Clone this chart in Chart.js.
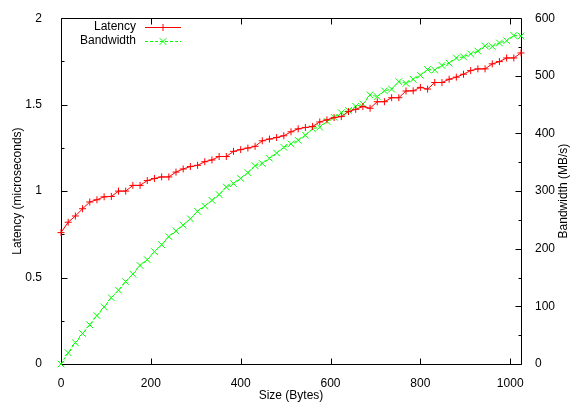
<!DOCTYPE html>
<html><head><meta charset="utf-8">
<script src="https://cdn.jsdelivr.net/npm/chart.js@4/dist/chart.umd.min.js"></script>
<style>html,body{margin:0;padding:0;background:#fff}#wrap{width:570px;height:405px;position:relative}</style>
</head><body><div id="wrap"><canvas id="c" width="570" height="405"></canvas></div>
<script>
const sizes = [0,16,32,48,64,80,96,112,128,144,160,176,192,208,224,240,256,272,288,304,320,336,352,368,384,400,416,432,448,464,480,496,512,528,544,560,576,592,608,624,640,656,672,688,704,720,736,752,768,784,800,816,832,848,864,880,896,912,928,944,960,976,992,1008,1024];
const latency = [0.76,0.82,0.856,0.898,0.937,0.95,0.967,0.969,1.0,1.0,1.033,1.033,1.061,1.073,1.082,1.082,1.11,1.128,1.142,1.149,1.17,1.18,1.2,1.2,1.23,1.24,1.249,1.259,1.291,1.301,1.31,1.32,1.343,1.36,1.368,1.374,1.4,1.412,1.425,1.431,1.46,1.473,1.489,1.479,1.517,1.517,1.54,1.54,1.579,1.58,1.6,1.59,1.628,1.628,1.647,1.659,1.676,1.697,1.707,1.707,1.736,1.749,1.77,1.77,1.799];
const bandwidth = [0,19.5,37,53,68,84,99,115,128,143,156,171,181,195,207,221,231,241,252,265,274,284,294,307,313,322,332,344,348,357,366,376,382,388,397,408,411,421,428,436,440,447,451,467,464,474,477,490,487,494,501,511,510,518,522,531,533,538,543,552,551,557,561,570,569];
const xTickValues = [0,200,400,600,800,1000];
const latencyTickValues = [0,0.5,1,1.5,2];
const latencyMinorTicks = [0.25,0.75,1.25,1.75];
const bandwidthTickValues = [0,100,200,300,400,500,600];
const bandwidthMinorTicks = [50,150,250,350,450,550];
const seriesNames = ['Latency','Bandwidth'];
const axisTitles = {x:'Size (Bytes)', y:'Latency (microseconds)', y2:'Bandwidth (MB/s)'};

const FONT = {family:'"Liberation Sans", Arial, sans-serif', size:12};
const FONTSTR = '12px "Liberation Sans", Arial, sans-serif';
const RED = '#ff0000', GREEN = '#00ff00';

const frame = {
  id:'frame',
  beforeDatasetsDraw(chart){
    const {ctx, chartArea:a, scales} = chart;
    ctx.save();
    ctx.strokeStyle = '#000'; ctx.lineWidth = 1;
    ctx.beginPath();
    const L=Math.round(a.left)+0.5, R=Math.round(a.right)+0.5, T=Math.round(a.top)+0.5, B=Math.round(a.bottom)+0.5;
    ctx.rect(L,T,R-L,B-T);
    xTickValues.forEach(v=>{const x=Math.round(scales.x.getPixelForValue(v))+0.5; ctx.moveTo(x,B); ctx.lineTo(x,B-6); ctx.moveTo(x,T); ctx.lineTo(x,T+6);});
    latencyTickValues.forEach(v=>{const y=Math.round(scales.y.getPixelForValue(v))+0.5; ctx.moveTo(L,y); ctx.lineTo(L+6,y);});
    latencyMinorTicks.forEach(v=>{const y=Math.round(scales.y.getPixelForValue(v))+0.5; ctx.moveTo(L,y); ctx.lineTo(L+3,y);});
    bandwidthTickValues.forEach(v=>{const y=Math.round(scales.y2.getPixelForValue(v))+0.5; ctx.moveTo(R,y); ctx.lineTo(R-6,y);});
    bandwidthMinorTicks.forEach(v=>{const y=Math.round(scales.y2.getPixelForValue(v))+0.5; ctx.moveTo(R,y); ctx.lineTo(R-3,y);});
    ctx.stroke();
    // right axis title, reading bottom to top
    ctx.fillStyle = '#000'; ctx.font = FONTSTR; ctx.textAlign='center'; ctx.textBaseline='middle';
    ctx.translate(564,(a.top+a.bottom)/2); ctx.rotate(-Math.PI/2);
    ctx.fillText(axisTitles.y2,0,0);
    ctx.restore();
  },
  afterDatasetsDraw(chart){
    const {ctx} = chart;
    ctx.save();
    ctx.font = FONTSTR; ctx.textAlign='right'; ctx.textBaseline='middle'; ctx.fillStyle='#000';
    chart.data.datasets.forEach((ds,i)=>{
      const y = 27 + i*13.7;
      ctx.fillText(ds.label,136,y);
      const yy = Math.round(y)+0.5;
      ctx.strokeStyle = ds.borderColor; ctx.lineWidth=1;
      ctx.setLineDash(ds.borderDash||[]);
      ctx.beginPath(); ctx.moveTo(145,yy); ctx.lineTo(181,yy); ctx.stroke();
      ctx.setLineDash([]);
      ctx.beginPath();
      if (ds.pointStyle==='cross'){ ctx.moveTo(163-3.5,yy); ctx.lineTo(163+3.5,yy); ctx.moveTo(163,yy-3.5); ctx.lineTo(163,yy+3.5); }
      else { const d=3.3; ctx.moveTo(163-d,yy-d); ctx.lineTo(163+d,yy+d); ctx.moveTo(163-d,yy+d); ctx.lineTo(163+d,yy-d); }
      ctx.stroke();
    });
    ctx.restore();
  }
};

new Chart(document.getElementById('c'), {
  type:'line',
  data:{
    datasets:[
      {label:seriesNames[0], data:sizes.map((s,i)=>({x:s,y:latency[i]})), yAxisID:'y',
       borderColor:RED, backgroundColor:RED, borderWidth:1, pointStyle:'cross', pointRadius:3.5,
       pointBorderWidth:1, pointBorderColor:RED, tension:0, clip:false},
      {label:seriesNames[1], data:sizes.map((s,i)=>({x:s,y:bandwidth[i]})), yAxisID:'y2',
       borderColor:GREEN, backgroundColor:GREEN, borderWidth:1, borderDash:[3,2], pointStyle:'crossRot', pointRadius:4.7,
       pointBorderWidth:1, pointBorderColor:GREEN, tension:0, clip:false}
    ]
  },
  options:{
    responsive:false, animation:false, devicePixelRatio:1,
    layout:{padding:{top:16,left:0,right:0,bottom:0}},
    plugins:{legend:{display:false}, tooltip:{enabled:false}},
    scales:{
      x:{type:'linear', min:0, max:1024, grid:{display:false}, border:{display:false},
         afterBuildTicks:s=>{s.ticks = xTickValues.map(v=>({value:v}));},
         ticks:{font:FONT, color:'#000', padding:4, maxRotation:0, includeBounds:false, callback:v=>String(v)},
         title:{display:true, text:axisTitles.x, font:FONT, color:'#000', padding:{top:0,bottom:2}},
         afterFit:s=>{s.height=41;}},
      y:{type:'linear', position:'left', min:0, max:2, grid:{display:false}, border:{display:false},
         afterBuildTicks:s=>{s.ticks = latencyTickValues.map(v=>({value:v}));},
         ticks:{font:FONT, color:'#000', padding:11, callback:v=>String(v)},
         title:{display:true, text:axisTitles.y, font:FONT, color:'#000', padding:{top:10,bottom:0}},
         afterFit:s=>{s.width=61;}},
      y2:{type:'linear', position:'right', min:0, max:600, grid:{display:false}, border:{display:false},
         afterBuildTicks:s=>{s.ticks = bandwidthTickValues.map(v=>({value:v}));},
         ticks:{font:FONT, color:'#000', padding:6, callback:v=>String(v)},
         title:{display:false},
         afterFit:s=>{s.width=49;}}
    }
  },
  plugins:[frame]
});
</script></body></html>
